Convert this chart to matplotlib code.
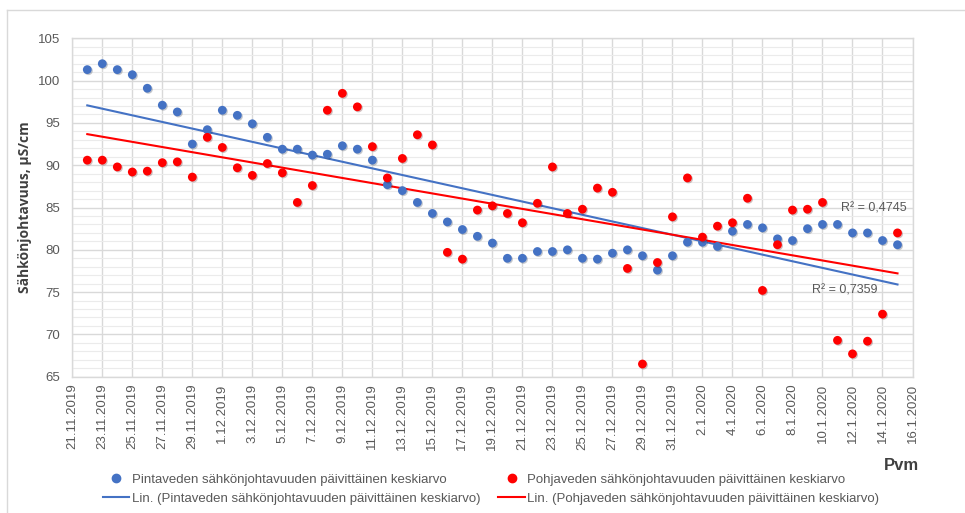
import numpy as np
import pandas as pd
import matplotlib
matplotlib.use("Agg")
import matplotlib.pyplot as plt
import matplotlib.dates as mdates
import matplotlib.patheffects as pe
from matplotlib.lines import Line2D

# Daily means, 22.11.2019 - 15.1.2020
dates = pd.date_range("2019-11-22", "2020-01-15", freq="D")

pintavesi = [
    101.3, 102.0, 101.3, 100.7, 99.1, 97.1, 96.3, 92.5, 94.2,
    96.5, 95.9, 94.9, 93.3, 91.9, 91.9, 91.2, 91.3, 92.3, 91.9,
    90.6, 87.7, 87.0, 85.6, 84.3, 83.3, 82.4, 81.6, 80.8, 79.0,
    79.0, 79.8, 79.8, 80.0, 79.0, 78.9, 79.6, 80.0, 79.3, 77.6, 79.3,
    80.9, 80.9, 80.4, 82.2, 83.0, 82.6, 81.3, 81.1, 82.5, 83.0,
    83.0, 82.0, 82.0, 81.1, 80.6,
]
pohjavesi = [
    90.6, 90.6, 89.8, 89.2, 89.3, 90.3, 90.4, 88.6, 93.3,
    92.1, 89.7, 88.8, 90.2, 89.1, 85.6, 87.6, 96.5, 98.5, 96.9,
    92.2, 88.5, 90.8, 93.6, 92.4, 79.7, 78.9, 84.7, 85.2, 84.3,
    83.2, 85.5, 89.8, 84.3, 84.8, 87.3, 86.8, 77.8, 66.5, 78.5, 83.9,
    88.5, 81.5, 82.8, 83.2, 86.1, 75.2, 80.6, 84.7, 84.8, 85.6,
    69.3, 67.7, 69.2, 72.4, 82.0,
]

r2_pinta = "R² = 0,7359"
r2_pohja = "R² = 0,4745"

label_pinta = "Pintaveden sähkönjohtavuuden päivittäinen keskiarvo"
label_pohja = "Pohjaveden sähkönjohtavuuden päivittäinen keskiarvo"

tick_dates = pd.date_range("2019-11-21", "2020-01-16", freq="2D")
y_ticks = [65, 70, 75, 80, 85, 90, 95, 100, 105]

BLUE = "#4472C4"
RED = "#FF0000"
GRID = "#D9D9D9"
MINOR = "#EBEBEB"
TXT = "#595959"

plt.rcParams["font.family"] = ["Liberation Sans", "DejaVu Sans"]

fig = plt.figure(figsize=(9.65, 5.13), dpi=100)
ax = fig.add_axes([0.0749, 0.2657, 0.8707, 0.6596])

xnum = mdates.date2num(dates)

shadow = [pe.SimplePatchShadow(offset=(0.8, -0.8), alpha=0.25), pe.Normal()]
ax.scatter(dates, pintavesi, s=40, color=BLUE, zorder=4, linewidths=0,
           path_effects=shadow)
ax.scatter(dates, pohjavesi, s=40, color=RED, zorder=4, linewidths=0,
           path_effects=shadow)

# Linear trend lines
for vals, col in ((pintavesi, BLUE), (pohjavesi, RED)):
    k, b = np.polyfit(xnum, vals, 1)
    ends = np.array([xnum[0], xnum[-1]])
    ax.plot(mdates.num2date(ends), k * ends + b, color=col, lw=1.5, zorder=3)

ax.set_xlim(tick_dates[0], tick_dates[-1])
ax.set_ylim(65, 105)
ax.set_xticks(tick_dates)
ax.set_xticklabels([f"{d.day}.{d.month}.{d.year}" for d in tick_dates],
                   rotation=90, ha="center", va="top")
ax.set_yticks(y_ticks)
ax.set_yticks(np.arange(65, 106, 1), minor=True)
ax.tick_params(axis="both", which="both", length=0, colors=TXT, labelsize=9.5)
ax.tick_params(axis="y", pad=9)
ax.tick_params(axis="x", pad=5)

ax.grid(True, which="major", color=GRID, lw=1.0, zorder=0)
ax.grid(True, which="minor", axis="y", color=MINOR, lw=0.8, zorder=0)
ax.set_axisbelow(True)
for s in ax.spines.values():
    s.set_color(GRID)
    s.set_linewidth(1.0)

ax.set_ylabel("Sähkönjohtavuus, µS/cm", family=["Open Sans", "DejaVu Sans"],
              fontweight="bold", fontsize=10, color="#404040", labelpad=4)

ax.text(mdates.date2num(pd.Timestamp("2020-01-13")) + 0.4, 84.85, r2_pohja,
        fontsize=9, color=TXT, ha="center", va="center")
ax.text(mdates.date2num(pd.Timestamp("2020-01-11")) + 0.5, 75.17, r2_pinta,
        fontsize=9, color=TXT, ha="center", va="center")

fig.text(919 / 965, 1 - 465 / 513, "Pvm", fontsize=12, fontweight="bold",
         color="#404040", ha="right", va="center")

handles = [
    Line2D([], [], ls="none", marker="o", ms=6, color=BLUE),
    Line2D([], [], color=BLUE, lw=1.5),
    Line2D([], [], ls="none", marker="o", ms=6, color=RED),
    Line2D([], [], color=RED, lw=1.5),
]
labels = [label_pinta, f"Lin. ({label_pinta})", label_pohja, f"Lin. ({label_pohja})"]
fig.legend(handles, labels, ncol=2, loc="center",
           bbox_to_anchor=(0.509, 1 - 489 / 513),
           frameon=False, fontsize=9.5, labelcolor=TXT, handlelength=2.0,
           handletextpad=0.2, columnspacing=1.35, labelspacing=0.5)

# Outer chart frame
fig.add_artist(Line2D([6.7 / 965, 6.7 / 965], [0, 1 - 10 / 513],
                      transform=fig.transFigure, color=GRID, lw=1))
fig.add_artist(Line2D([6.7 / 965, 1], [1 - 10 / 513, 1 - 10 / 513],
                      transform=fig.transFigure, color=GRID, lw=1))

fig.savefig("out.png", dpi=100)
